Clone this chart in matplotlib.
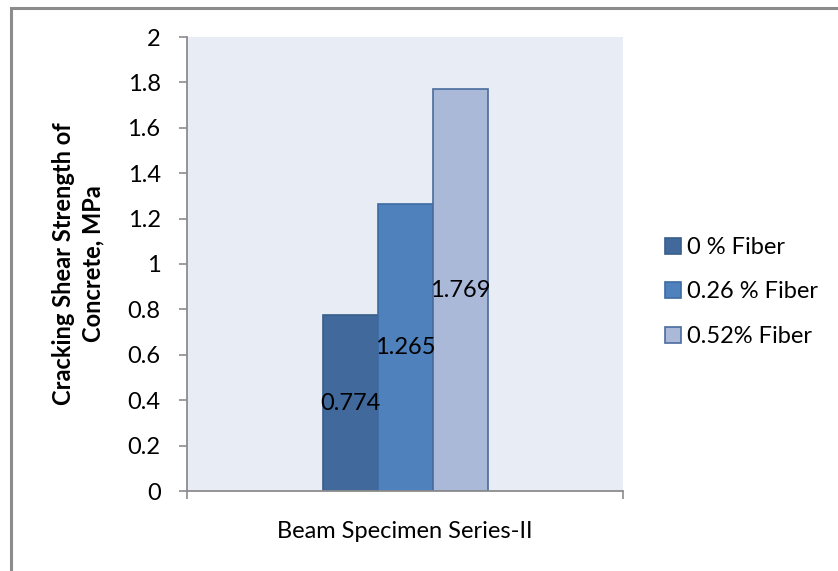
import matplotlib.pyplot as plt
from matplotlib.patches import Rectangle

series = ['0 % Fiber', '0.26 % Fiber', '0.52% Fiber']
values = [0.774, 1.265, 1.769]
category = 'Beam Specimen Series-II'
yticks = [0, 0.2, 0.4, 0.6, 0.8, 1, 1.2, 1.4, 1.6, 1.8, 2]
ytick_labels = ['0', '0.2', '0.4', '0.6', '0.8', '1', '1.2', '1.4', '1.6', '1.8', '2']
colors = ['#41699B', '#4F81BD', '#AAB9D8']
edges = ['#385D8A', '#3E6BA3', '#4A6C9E']

plt.rcParams['font.family'] = ['Lato', 'DejaVu Sans']
FS = 17

fig = plt.figure(figsize=(8.38, 5.71), dpi=100)
# outer chart border (only left and top are inside the picture)
fig.patches.append(Rectangle((11 / 838, -0.1), 1.2, 1 - 7.5 / 571 + 0.1,
                             transform=fig.transFigure, fill=False,
                             edgecolor='#8C8C8C', linewidth=2.2))

ax = fig.add_axes([187 / 838, 1 - 491 / 571, 436 / 838, 454 / 571])
ax.set_facecolor('#E8ECF4')

w = 55 / 436
for i, (name, v) in enumerate(zip(series, values)):
    x = (i - 1) * w
    ax.bar(x, v, width=w, color=colors[i], edgecolor=edges[i], linewidth=1.2,
           label=name)
    ax.text(x, v / 2, f'{v:.3f}', ha='center', va='center', fontsize=FS,
            color='black')

ax.set_xlim(-0.5, 0.5)
ax.set_ylim(0, 2)
ax.set_yticks(yticks)
ax.set_yticklabels(ytick_labels)
ax.set_xticks([-0.5, 0.5])
ax.set_xticklabels(['', ''])
ax.text(0, -(532 - 491) / 227, category, ha='center', va='center',
        fontsize=FS)

for s in ['top', 'right']:
    ax.spines[s].set_visible(False)
for s in ['left', 'bottom']:
    ax.spines[s].set_color('#8C8C8C')
    ax.spines[s].set_linewidth(1.3)
ax.tick_params(axis='y', direction='out', length=6, width=1.2,
               color='#8C8C8C', labelsize=FS, pad=13)
ax.tick_params(axis='x', direction='out', length=6, width=1.2,
               color='#8C8C8C')

fig.text(78.5 / 838, 1 - 264 / 571, 'Cracking Shear Strength of\nConcrete, MPa',
         rotation=90, ha='center', va='center', fontsize=FS,
         fontweight='bold', linespacing=1.35, multialignment='center')

ax.legend(loc='center left', bbox_to_anchor=(665 / 838, 1 - 292 / 571),
          bbox_transform=fig.transFigure, frameon=False, fontsize=FS,
          handlelength=0.68, handleheight=0.68, handletextpad=0.25,
          labelspacing=1.0, borderpad=0, borderaxespad=0)

fig.savefig('out.png', dpi=100)
